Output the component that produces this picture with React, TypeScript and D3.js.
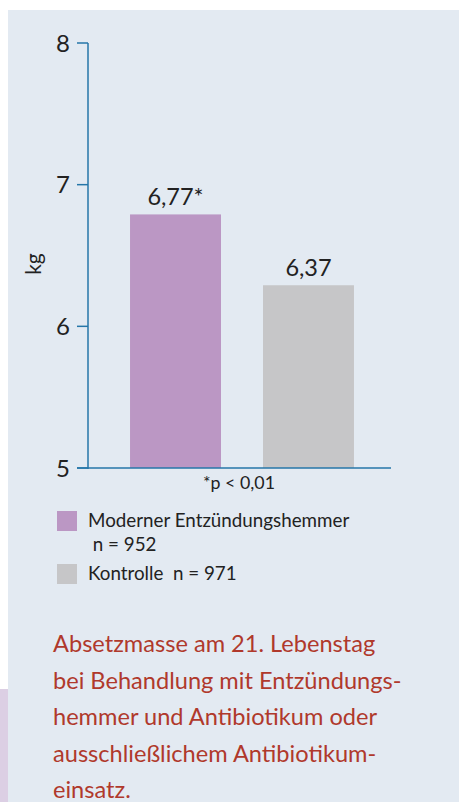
import React, { useEffect, useRef } from 'react';
import * as d3 from 'd3';

// data
const groups = ['Moderner Entzündungshemmer', 'Kontrolle'];
const barValues = [6.79, 6.29];
const valueLabels = ['6,77*', '6,37'];
const yTicks = [5, 6, 7, 8];
const legendLines = [['Moderner Entzündungshemmer', ' n = 952'], ['Kontrolle  n = 971']];
const captionLines = [
  'Absetzmasse am 21. Lebenstag',
  'bei Behandlung mit Entzündungs-',
  'hemmer und Antibiotikum oder',
  'ausschließlichem Antibiotikum-',
  'einsatz.'
];

const W = 459;
const H = 802;
const FONT = 'Lato, "Open Sans", sans-serif';
const colors = ['#bb97c4', '#c6c6c8'];

export default function App() {
  const ref = useRef<SVGSVGElement>(null);

  useEffect(() => {
    const svg = d3.select(ref.current);
    svg.selectAll('*').remove();

    // panel backgrounds
    svg.append('rect').attr('width', W).attr('height', H).attr('fill', '#ffffff');
    svg.append('rect').attr('x', 0).attr('y', 689).attr('width', 8).attr('height', H - 689).attr('fill', '#dccfe4');
    svg.append('rect').attr('x', 8).attr('y', 10).attr('width', W - 8).attr('height', H - 10).attr('fill', '#e3eaf2');

    const y = d3.scaleLinear().domain([5, 8]).range([468, 43]);
    const x = d3.scaleBand().domain(groups).range([88, 396]).paddingInner(0.316).paddingOuter(0.316);

    // bars
    svg.selectAll('rect.bar')
      .data(barValues)
      .enter()
      .append('rect')
      .attr('class', 'bar')
      .attr('x', (d, i) => x(groups[i])!)
      .attr('width', x.bandwidth())
      .attr('y', d => y(d))
      .attr('height', d => y(5) - y(d))
      .attr('fill', (d, i) => colors[i]);

    // value labels
    svg.selectAll('text.val')
      .data(barValues)
      .enter()
      .append('text')
      .attr('class', 'val')
      .attr('x', (d, i) => x(groups[i])! + x.bandwidth() / 2)
      .attr('y', d => y(d) - 9)
      .attr('text-anchor', 'middle')
      .attr('font-family', FONT)
      .attr('font-size', 23.5)
      .attr('fill', '#222')
      .text((d, i) => valueLabels[i]);

    // axes
    const axisColor = '#2676a8';
    svg.append('line').attr('x1', 88).attr('x2', 88).attr('y1', 43).attr('y2', 469)
      .attr('stroke', axisColor).attr('stroke-width', 1.5);
    svg.append('line').attr('x1', 77).attr('x2', 391).attr('y1', y(5)).attr('y2', y(5))
      .attr('stroke', axisColor).attr('stroke-width', 1.5);

    const ticks = svg.selectAll('g.tick').data(yTicks).enter().append('g')
      .attr('transform', d => `translate(0,${y(d)})`);
    ticks.append('line').attr('x1', 77).attr('x2', 88).attr('stroke', axisColor).attr('stroke-width', 1.5);
    ticks.append('text')
      .attr('x', 70)
      .attr('dy', '0.36em')
      .attr('text-anchor', 'end')
      .attr('font-family', FONT)
      .attr('font-size', 24)
      .attr('fill', '#222')
      .text(d => d);

    svg.append('text')
      .attr('transform', 'translate(41,264) rotate(-90)')
      .attr('text-anchor', 'middle')
      .attr('font-family', FONT)
      .attr('font-size', 21)
      .attr('fill', '#222')
      .text('kg');

    svg.append('text')
      .attr('x', 239).attr('y', 489)
      .attr('text-anchor', 'middle')
      .attr('font-family', FONT)
      .attr('font-size', 17.8)
      .attr('fill', '#222')
      .text('*p < 0,01');

    // legend
    const legendY = [511, 564];
    legendLines.forEach((lines, i) => {
      svg.append('rect').attr('x', 57).attr('y', legendY[i]).attr('width', 20).attr('height', 20).attr('fill', colors[i]);
      lines.forEach((t, j) => {
        svg.append('text')
          .attr('x', 88).attr('y', legendY[i] + 16 + j * 24)
          .attr('font-family', FONT)
          .attr('font-size', 18.8)
          .attr('fill', '#222')
          .attr('xml:space', 'preserve')
          .style('white-space', 'pre')
          .text(t);
      });
    });

    // caption
    svg.selectAll('text.cap')
      .data(captionLines)
      .enter()
      .append('text')
      .attr('class', 'cap')
      .attr('x', 53)
      .attr('y', (d, i) => 652 + i * 36.5)
      .attr('font-family', FONT)
      .attr('font-size', 23.6)
      .attr('fill', '#b0392c')
      .text(d => d);
  }, []);

  return (
    <div style={{ position: 'absolute', left: 0, top: 0 }}>
      <svg ref={ref} width={W} height={H} style={{ display: 'block' }} />
    </div>
  );
}
